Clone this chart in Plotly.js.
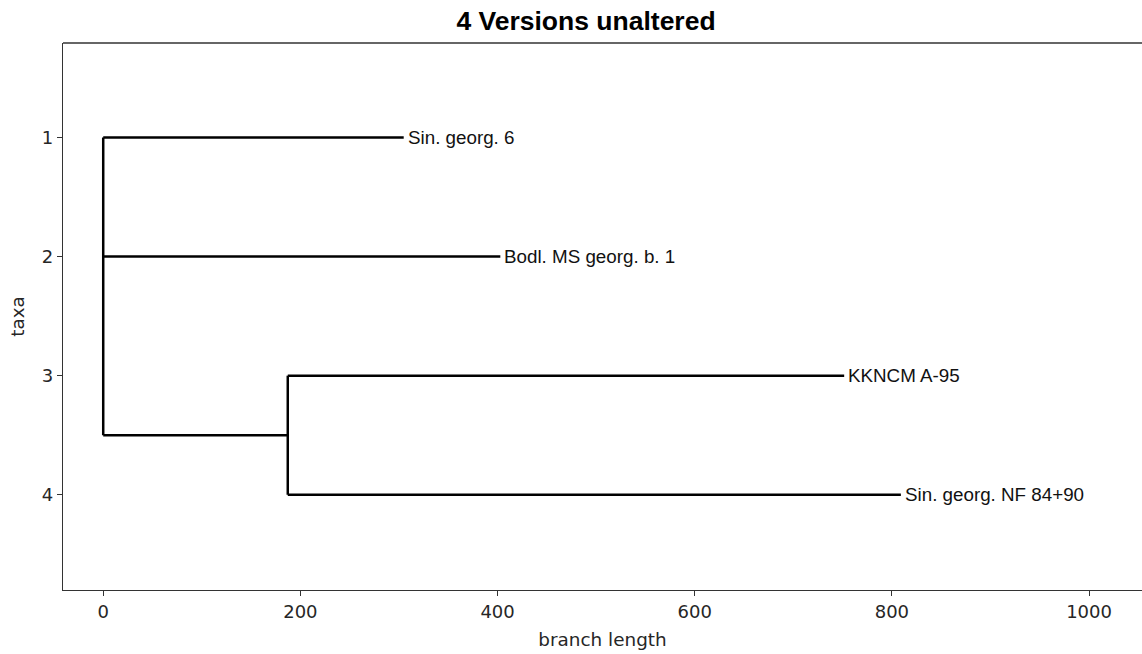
<!DOCTYPE html>
<html>
<head>
<meta charset="utf-8">
<script src="https://cdn.plot.ly/plotly-3.0.1.min.js"></script>
<style>html,body{margin:0;padding:0;background:#fff;}#chart{width:1142px;height:654px;}</style>
</head>
<body>
<div id="chart"></div>
<script>
// ---- data ----
const taxa = ["Sin. georg. 6", "Bodl. MS georg. b. 1", "KKNCM A-95", "Sin. georg. NF 84+90"];
const taxonY = [1, 2, 3, 4];
const taxonDepth = [304.8, 402.8, 751.6, 809.1];
const taxonParent = ["root", "root", "clade", "clade"];
const nodeNames = ["root", "clade"];
const nodeDepth = [0, 187.2];
const nodeParent = [null, "root"];
const xTicks = [0, 200, 400, 600, 800, 1000];
const yTicks = [1, 2, 3, 4];

// ---- build tree geometry ----
const children = {};
nodeNames.forEach(n => children[n] = []);
taxa.forEach((t, i) => children[taxonParent[i]].push({x: taxonDepth[i], y: taxonY[i]}));
const nodeInfo = {};
function nodeY(name) {
  if (nodeInfo[name]) return nodeInfo[name].y;
  const i = nodeNames.indexOf(name);
  const kids = children[name].slice();
  nodeNames.forEach((n, j) => { if (nodeParent[j] === name) kids.push({x: nodeDepth[j], y: nodeY(n)}); });
  kids.sort((a, b) => a.y - b.y);
  const y = (kids[0].y + kids[kids.length - 1].y) / 2;
  nodeInfo[name] = {x: nodeDepth[i], y: y, ymin: kids[0].y, ymax: kids[kids.length - 1].y};
  return y;
}
nodeNames.forEach(n => nodeY(n));

const lx = [], ly = [];
taxa.forEach((t, i) => {
  const p = nodeInfo[taxonParent[i]];
  lx.push(p.x, taxonDepth[i], null); ly.push(taxonY[i], taxonY[i], null);
});
nodeNames.forEach((n, j) => {
  const info = nodeInfo[n];
  const px = nodeParent[j] ? nodeInfo[nodeParent[j]].x : info.x;
  lx.push(px, info.x, null); ly.push(info.y, info.y, null);
  lx.push(info.x, info.x, null); ly.push(info.ymin, info.ymax, null);
});

const traces = [{
  type: "scatter", mode: "lines", x: lx, y: ly,
  line: {color: "#000", width: 2.5}, hoverinfo: "skip", showlegend: false
}];

const annotations = taxa.map((t, i) => ({
  x: taxonDepth[i], y: taxonY[i], xref: "x", yref: "y",
  text: t, showarrow: false, xanchor: "left", yanchor: "middle", xshift: 2,
  font: {family: "Liberation Sans, Arial, sans-serif", size: 18.8, color: "#111"}
}));

const tickFont = {family: "DejaVu Sans, sans-serif", size: 18, color: "#262626"};
const layout = {
  width: 1142, height: 654,
  margin: {l: 63, r: 0, t: 43, b: 64},
  paper_bgcolor: "#fff", plot_bgcolor: "#fff",
  title: {text: "4 Versions unaltered", x: 586 / 1142, xref: "container", xanchor: "center",
          y: 1 - 21 / 654, yanchor: "middle", yref: "container",
          font: {family: "Liberation Sans, Arial, sans-serif", size: 26.5, color: "#000", weight: "bold"}},
  xaxis: {
    range: [-40.8, 1053.7], tickvals: xTicks, ticktext: xTicks.map(String),
    showgrid: false, zeroline: false, showline: true, linecolor: "#333", linewidth: 1.3,
    ticks: "outside", ticklen: 5, tickwidth: 1, tickcolor: "#333", tickfont: tickFont,
    title: {text: "branch length", font: {family: "DejaVu Sans, sans-serif", size: 18.4, color: "#262626"}, standoff: 12}
  },
  yaxis: {
    range: [4.8, 0.206], tickvals: yTicks, ticktext: yTicks.map(String),
    showgrid: false, zeroline: false, showline: true, linecolor: "#333", linewidth: 1.3,
    ticks: "outside", ticklen: 5, tickwidth: 1, tickcolor: "#333", tickfont: tickFont,
    title: {text: "taxa", font: {family: "DejaVu Sans, sans-serif", size: 18.4, color: "#262626"}, standoff: 12}
  },
  shapes: [{type: "line", xref: "paper", yref: "paper", x0: 0, x1: 1, y0: 1, y1: 1,
            line: {color: "#333", width: 1.3}}],
  annotations: annotations
};
Plotly.newPlot("chart", traces, layout, {staticPlot: true, displayModeBar: false});
</script>
</body>
</html>
